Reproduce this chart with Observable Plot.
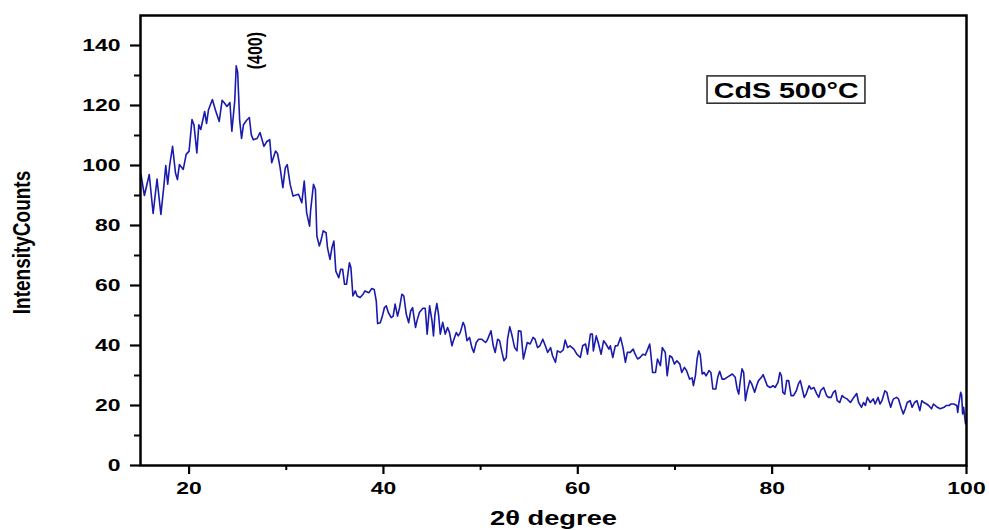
<!DOCTYPE html>
<html><head><meta charset="utf-8">
<script src="https://cdn.jsdelivr.net/npm/d3@7"></script>
<script src="https://cdn.jsdelivr.net/npm/@observablehq/plot@0.6"></script>
<style>
body{margin:0;background:#fff}
svg{font-family:"Liberation Sans",Arial,sans-serif}
</style>
</head><body><div id="chart"></div>
<script>
const twoTheta = [
15.05,15.4,15.9,16.3,16.7,17.1,17.4,17.6,17.8,18.0,18.3,18.6,18.8,19.0,19.4,19.7,20.0,20.3,20.5,20.8,
21.0,21.2,21.6,21.8,22.0,22.4,22.7,23.1,23.4,23.6,23.9,24.2,24.4,24.7,24.85,25.0,25.2,25.4,25.6,25.9,
26.2,26.4,26.6,27.0,27.3,27.7,28.0,28.3,28.5,28.9,29.1,29.37,29.65,29.9,30.1,30.4,30.7,31.26,31.6,31.85,
32.1,32.4,32.5,32.8,33.0,33.15,33.4,33.56,33.8,34.1,34.24,34.5,34.7,34.9,35.1,35.4,35.6,35.8,36.0,36.2,
36.5,36.65,36.86,37.1,37.3,37.6,37.9,38.1,38.5,38.8,39.05,39.26,39.4,39.67,39.85,40.1,40.3,40.5,40.8,41.0,
41.2,41.45,41.66,41.9,42.1,42.35,42.6,42.8,43.0,43.3,43.45,43.7,44.06,44.3,44.5,44.75,45.0,45.15,45.3,45.5,
45.67,45.85,46.1,46.36,46.6,46.8,47.05,47.2,47.5,47.7,47.9,48.2,48.35,48.6,48.86,49.1,49.3,49.55,49.8,50.1,
50.5,50.65,50.8,51.07,51.3,51.5,51.75,51.95,52.2,52.4,52.64,52.77,53.0,53.2,53.5,53.74,53.9,54.15,54.4,54.6,
54.8,55.1,55.4,55.6,55.86,56.1,56.4,56.66,56.9,57.2,57.4,57.7,57.9,58.2,58.5,58.7,58.95,59.2,59.6,59.9,
60.26,60.5,60.8,61.0,61.3,61.5,61.6,61.9,62.1,62.4,62.66,62.9,63.2,63.35,63.6,63.86,64.1,64.4,64.65,64.9,
65.1,65.4,65.7,65.9,66.16,66.4,66.7,66.95,67.2,67.4,67.5,67.7,68.0,68.2,68.5,68.7,69.0,69.2,69.46,69.7,
69.94,70.2,70.5,70.7,70.97,71.2,71.5,71.76,71.9,72.1,72.28,72.44,72.6,72.8,73.0,73.2,73.5,73.7,73.9,74.2,
74.4,74.6,74.85,75.1,75.36,75.6,75.9,76.2,76.4,76.56,76.7,76.9,77.07,77.25,77.4,77.7,77.9,78.2,78.4,78.6,
78.9,79.07,79.3,79.5,79.8,80.1,80.3,80.6,80.8,80.95,81.1,81.3,81.5,81.7,81.95,82.2,82.5,82.7,82.9,83.1,
83.3,83.5,83.8,84.0,84.3,84.6,84.8,85.0,85.3,85.6,85.8,86.07,86.3,86.5,86.7,86.96,87.2,87.4,87.7,88.06,
88.4,88.7,88.9,89.2,89.4,89.6,89.8,90.1,90.4,90.6,90.9,91.1,91.3,91.6,91.8,92.0,92.2,92.4,92.5,92.8,
93.0,93.3,93.5,93.7,93.9,94.2,94.4,94.65,94.9,95.2,95.4,95.6,95.9,96.1,96.4,96.6,97.0,97.3,97.7,97.9,
98.2,98.4,98.7,99.0,99.1,99.2,99.4,99.5,99.6,99.7,99.9
];
const intensity = [
97,90,97,84,95.5,83.7,93,100,93.8,100,106.4,97.5,95.3,100.3,98.7,103.7,104.8,115.3,113.6,104.2,
113.6,112,118,114,118.6,122,118.6,114.7,121.7,121,119.7,121,111.4,121.6,133.2,131,115.3,109,113.6,115,
116,110.3,108.6,109,111,106.4,108,108.6,100.9,104.8,104,99.2,92.6,99.2,100.3,93.7,89.8,90.4,87.6,94.8,
84.2,79.8,84.8,93.7,92,76.5,73.2,74.8,78.2,77.6,72.6,68.7,72.6,74.8,64.8,62.6,65.4,65.4,60.4,60.4,
67.6,66,56.5,58.2,56.5,56,57.1,58.2,57.6,59,58.7,54.9,47.3,47.6,49.3,52.6,53.2,51,49.3,49.8,
53.8,49.8,52.6,57.1,56.5,50.4,47.6,51.5,52.6,46,48.2,51,52.4,52.4,43.8,53.2,48.2,43.2,50.4,54,
50.4,43.8,47.7,43.8,46,44.3,39.9,41.6,44.3,43.2,44.3,47.7,46.6,41.6,42.7,39.3,37.7,41,42.1,42.1,
41,41.6,42.7,44.9,39.9,37.7,42.1,41.6,37.7,34.9,36,42.1,46.2,43.8,39.3,38.2,44.9,44.7,35.5,38.2,
41,40.5,42.7,42.1,39.3,39.9,42.1,39.9,37.7,39.3,36.6,34.4,38.2,37.7,38.5,41.8,39.3,39.9,38.8,37.1,
36,39.9,40.5,37.1,43.8,43.8,38.2,43.2,41,37.1,41.6,40.5,38.8,39.9,36,39.9,39.9,42.7,39.3,34.4,
37.7,37.7,38.8,37.1,35.5,36,37.1,36.8,38.8,40.5,37.7,31,31,35.5,33.3,39.3,37.7,29.9,36.6,36,
33.8,34.9,33.8,31,32.7,31.6,28.8,29.2,26.6,29.9,35.5,38.2,37,30.5,31,29.9,31.6,31,25.5,25.5,
29.4,31.4,28.8,28.8,29.4,29.9,30.5,29.4,25.5,23.8,27.7,32.2,31,21.6,24.4,28.3,27.2,24.4,26.6,28.3,
29.4,30.3,28.3,26.6,26,26.6,26,27.7,31,30,24.4,23.8,28.3,28.3,23.3,23.3,25,27.2,28.3,25.5,
22.7,23.8,26.6,25.5,26,23.8,22.7,25,26,23.3,22.7,22.7,24.4,25,21.6,21,23.3,22.7,22.2,21,
22.7,24,21,19.4,21,20,22.7,21,22.2,20.5,22.7,20.5,21.6,24.9,24.4,21.6,19.4,21.6,22.2,22.7,
22.2,18.9,17.2,18.9,21,21.6,19.4,21,21.6,18.3,21.6,21,20.5,20,18.9,20.5,19.4,18.9,19.4,20,
20,20.5,20.5,20,17.7,20.5,24.4,23.5,17.2,19.4,13.9
];
const yMajorTicks = [0, 20, 40, 60, 80, 100, 120, 140];
const yMinorTicks = [10, 30, 50, 70, 90, 110, 130];
const xMajorTicks = [20, 40, 60, 80, 100];
const xMinorTicks = [30, 50, 70, 90];
const xLabel = "2θ degree";
const yLabel = "IntensityCounts";
const sampleLabel = [{x: 81.45, y: 125.0, text: "CdS 500°C"}];
const sampleBox = [{x1: 73.35, x2: 89.6, y1: 120.6, y2: 129.7}];
const peakLabel = [{x: 26.8, y: 138.3, text: "(400)"}];

const data = twoTheta.map((x, i) => ({x, y: intensity[i]}));

const plot = Plot.plot({
  width: 989, height: 530,
  marginLeft: 140, marginRight: 23, marginTop: 15, marginBottom: 65,
  x: {domain: [15, 100]},
  y: {domain: [0, 150]},
  style: {fontFamily: "'Liberation Sans', Arial, sans-serif", fontSize: "17px", fontWeight: "bold", color: "#000", background: "#fff"},
  marks: [
    Plot.lineY(data, {x: "x", y: "y", stroke: "#1a1aab", strokeWidth: 1.6}),
    Plot.frame({stroke: "#000", strokeWidth: 2.5}),
    Plot.axisY(yMajorTicks, {tickSize: 10, tickPadding: 10, strokeWidth: 2.2, label: null, fontSize: 17, fontWeight: "bold", tickFormat: d => String(d)}),
    Plot.axisY(yMinorTicks, {tickSize: 6, strokeWidth: 2, label: null, tickFormat: () => ""}),
    Plot.axisX(xMajorTicks, {tickSize: 9, tickPadding: 7, strokeWidth: 2.2, label: null, fontSize: 17, fontWeight: "bold", tickFormat: d => String(d)}),
    Plot.axisX(xMinorTicks, {tickSize: 5, strokeWidth: 2, label: null, tickFormat: () => ""}),
    Plot.rect(sampleBox, {x1: "x1", x2: "x2", y1: "y1", y2: "y2", fill: "#fff", stroke: "#333", strokeWidth: 1.6}),
    Plot.text(sampleLabel, {x: "x", y: "y", text: "text", fontSize: 22, fontWeight: "bold", fill: "#000"}),
    Plot.text(peakLabel, {x: "x", y: "y", text: "text", rotate: -90, fontSize: 16, fontWeight: "bold", fill: "#000"}),
    Plot.text([xLabel], {frameAnchor: "bottom", textAnchor: "middle", lineAnchor: "middle", dy: 53, fontSize: 21, fontWeight: "bold", fill: "#000"}),
    Plot.text([yLabel], {frameAnchor: "left", textAnchor: "middle", lineAnchor: "middle", dx: -118, dy: 2, rotate: -90, fontSize: 19, fontWeight: "bold", fill: "#000"})
  ]
});
document.getElementById("chart").append(plot);

// horizontal stretch of text glyphs to match the reference's wide lettering
function stretch(el, sx, sy) {
  const x = +el.getAttribute("x") || 0, y = +el.getAttribute("y") || 0;
  const t = el.getAttribute("transform") || "";
  el.setAttribute("transform", `${t} translate(${x},${y}) scale(${sx},${sy}) translate(${-x},${-y})`);
}
plot.querySelectorAll('g[aria-label="y-axis tick label"] text, g[aria-label="x-axis tick label"] text')
  .forEach(el => stretch(el, 1.35, 1));
plot.querySelectorAll("text").forEach(el => {
  const s = el.textContent;
  if (s === xLabel || s === sampleLabel[0].text) stretch(el, 1.3, 1);
  if (s === yLabel || s === peakLabel[0].text) stretch(el, 1, 1.3);
});
</script>
</body></html>
